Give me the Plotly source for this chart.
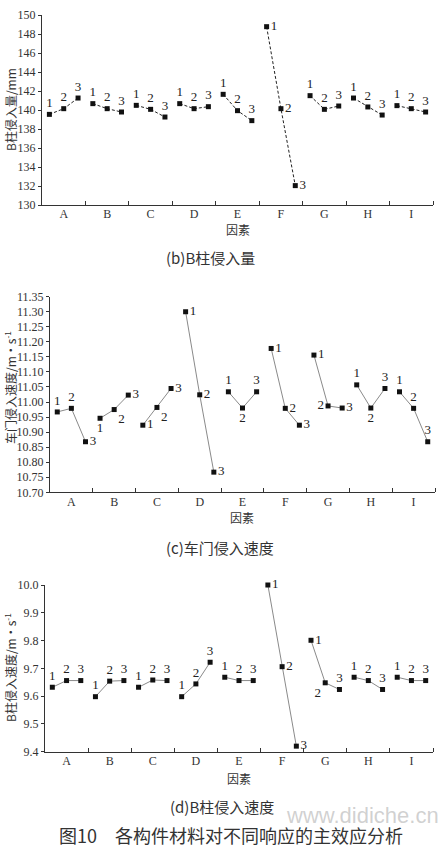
import plotly.graph_objects as go

W, H = 443, 849

factors = ["A", "B", "C", "D", "E", "F", "G", "H", "I"]
levels = ["1", "2", "3"]

# (b) B柱侵入量 / mm
b_vals = [
    [139.54, 140.14, 141.26],
    [140.67, 140.14, 139.79],
    [140.49, 140.07, 139.26],
    [140.67, 140.14, 140.35],
    [141.65, 139.93, 138.88],
    [148.77, 140.14, 132.04],
    [141.51, 140.07, 140.42],
    [141.26, 140.32, 139.47],
    [140.46, 140.14, 139.79],
]
# (c) 车门侵入速度 / m·s^-1
c_vals = [
    [10.967, 10.979, 10.868],
    [10.946, 10.975, 11.023],
    [10.923, 10.982, 11.045],
    [11.300, 11.024, 10.767],
    [11.034, 10.980, 11.034],
    [11.178, 10.979, 10.923],
    [11.156, 10.987, 10.980],
    [11.057, 10.980, 11.045],
    [11.034, 10.979, 10.868],
]
# (d) B柱侵入速度 / m·s^-1
d_vals = [
    [9.632, 9.656, 9.656],
    [9.598, 9.654, 9.656],
    [9.632, 9.658, 9.656],
    [9.598, 9.644, 9.722],
    [9.668, 9.656, 9.656],
    [10.000, 9.706, 9.420],
    [9.801, 9.648, 9.624],
    [9.668, 9.656, 9.624],
    [9.668, 9.656, 9.656],
]

TC, MR, BC, BR, ML, BL, TR = ("top center", "middle right", "bottom center",
                             "bottom right", "middle left", "bottom left", "top right")
b_pos = [[TC] * 3] * 5 + [[MR] * 3] + [[TC] * 3] * 3
c_pos = [
    [TC, TC, MR], [BC, BR, MR], [MR, BR, MR], [MR, MR, MR], [TC, BC, TC],
    [MR, MR, MR], [MR, ML, MR], [TC, BC, TC], [TC, TC, TC],
]
d_pos = [[TC] * 3] * 5 + [[MR] * 3] + [[MR, BL, TC]] + [[TC] * 3] * 2

offsets = [0.17, 0.5, 0.83]

FONT = "Liberation Serif, Noto Sans CJK SC, serif"
CJK = "Noto Sans CJK SC, Liberation Serif, serif"
INK = "#333333"

def px(x):
    return x / W

def py(y):
    return 1 - y / H

fig = go.Figure()

panels = [
    dict(vals=b_vals, pos=b_pos, x0=42, x1=433, y0=15, y1=205,
         rng=[130, 150], dtick=2, fmt="d", line=dict(color="#222222", width=1, dash="3px,2px"),
         ytitle="B柱侵入量/mm", ytitle_y=110, xt_y=230, cap="(b)B柱侵入量", cap_y=258, cap_x=210),
    dict(vals=c_vals, pos=c_pos, x0=50, x1=435, y0=296.7, y1=492.3,
         rng=[10.70, 11.35], dtick=0.05, fmt=".2f", line=dict(color="#8a8a8a", width=1),
         ytitle="车门侵入速度/m·s<sup>-1</sup>", ytitle_y=388, xt_y=517, cap="(c)车门侵入速度", cap_y=547, cap_x=220),
    dict(vals=d_vals, pos=d_pos, x0=45, x1=433, y0=585, y1=751.7,
         rng=[9.4, 10.0], dtick=0.1, fmt=".1f", line=dict(color="#8a8a8a", width=1),
         ytitle="B柱侵入速度/m·s<sup>-1</sup>", ytitle_y=668, xt_y=778, cap="(d)B柱侵入速度", cap_y=806, cap_x=222),
]

annotations = []
for k, p in enumerate(panels):
    xa = "x" if k == 0 else f"x{k+1}"
    ya = "y" if k == 0 else f"y{k+1}"
    for i, f in enumerate(factors):
        fig.add_trace(go.Scatter(
            x=[i + o for o in offsets], y=p["vals"][i],
            mode="lines+markers+text", text=levels, textposition=p["pos"][i],
            textfont=dict(family=FONT, size=13, color="#222222"),
            line=p["line"], marker=dict(symbol="square", size=5, color="#111111"),
            xaxis=xa, yaxis=ya, hoverinfo="skip", cliponaxis=False,
        ))
    axn = "" if k == 0 else str(k + 1)
    fig.update_layout({
        f"xaxis{axn}": dict(
            domain=[px(p["x0"]), px(p["x1"])], range=[0, 9], anchor=ya, automargin=False,
            tickmode="array", tickvals=[i + 0.5 for i in range(9)], ticktext=factors,
            ticks="", showline=True, linecolor=INK, linewidth=1, showgrid=False, zeroline=False,
            tickfont=dict(family=FONT, size=12, color=INK), ticklabelstandoff=-2,
            minor=dict(tickmode="array", tickvals=list(range(1, 10)), ticks="inside",
                       ticklen=4, tickcolor=INK, showgrid=False),
        ),
        f"yaxis{axn}": dict(
            domain=[py(p["y1"]), py(p["y0"])], range=p["rng"], anchor=xa, automargin=False,
            dtick=p["dtick"], tick0=p["rng"][0], tickformat=p["fmt"],
            ticks="outside", ticklen=3, tickcolor=INK, showline=True, linecolor=INK, linewidth=1,
            showgrid=False, zeroline=False, tickfont=dict(family=FONT, size=12, color=INK),
        ),
    })
    annotations.append(dict(text=p["ytitle"], x=px(10), y=py(p["ytitle_y"]), xref="paper", yref="paper",
                            textangle=-90, showarrow=False, font=dict(family=CJK, size=12, color=INK),
                            xanchor="center", yanchor="middle"))
    annotations.append(dict(text="因素", x=px((p["x0"] + p["x1"]) / 2), y=py(p["xt_y"]), xref="paper", yref="paper",
                            showarrow=False, font=dict(family=CJK, size=12, color=INK),
                            xanchor="center", yanchor="middle"))
    annotations.append(dict(text=p["cap"], x=px(p["cap_x"]), y=py(p["cap_y"]), xref="paper", yref="paper",
                            showarrow=False, font=dict(family=CJK, size=15, color=INK),
                            xanchor="center", yanchor="middle"))

annotations.append(dict(text="www.didiche.cn", x=px(441), y=py(815), xref="paper", yref="paper",
                        showarrow=False, font=dict(family="Liberation Sans, sans-serif", size=22,
                                                   color="rgba(170,170,170,0.55)"),
                        xanchor="right", yanchor="middle"))
annotations.append(dict(text="图10　各构件材料对不同响应的主效应分析", x=px(231), y=py(835), xref="paper", yref="paper",
                        showarrow=False, font=dict(family=CJK, size=18, color=INK),
                        xanchor="center", yanchor="middle"))

fig.update_layout(
    width=W, height=H, margin=dict(l=0, r=0, t=0, b=0, autoexpand=False),
    paper_bgcolor="white", plot_bgcolor="white", showlegend=False,
    annotations=annotations,
)

fig.write_html("out.html", config={"displayModeBar": False},
               post_script="document.body.style.margin='0';document.body.style.overflow='hidden';")
